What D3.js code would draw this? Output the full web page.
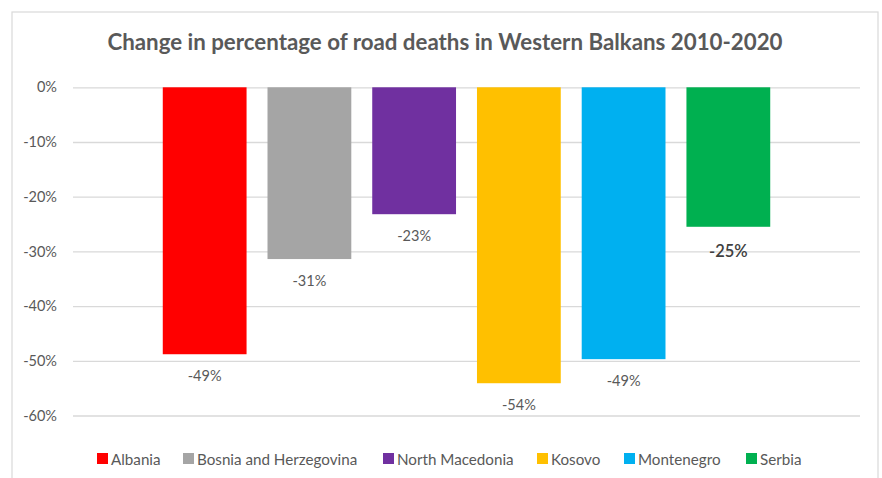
<!DOCTYPE html>
<html>
<head>
<meta charset="utf-8">
<script src="https://cdn.jsdelivr.net/npm/d3@7"></script>
<style>
  body { margin: 0; background: #fff; }
  text { font-family: Lato, "Open Sans", sans-serif; }
</style>
</head>
<body>
<script>
// data
var countries = ["Albania", "Bosnia and Herzegovina", "North Macedonia", "Kosovo", "Montenegro", "Serbia"];
var changes = [-48.8, -31.4, -23.2, -54.1, -49.7, -25.5];
var labels = ["-49%", "-31%", "-23%", "-54%", "-49%", "-25%"];
var colours = ["#ff0000", "#a5a5a5", "#7030a0", "#ffc000", "#00b0f0", "#00b050"];
var yTicks = [0, -10, -20, -30, -40, -50, -60];

var width = 882, height = 478;

var svg = d3.select("body").append("svg")
  .attr("width", width).attr("height", height);

// chart frame
svg.append("rect")
  .attr("x", 12).attr("y", 12)
  .attr("width", 866).attr("height", 480)
  .attr("fill", "#fff")
  .attr("stroke", "#d9d9d9").attr("stroke-width", 1.2);

svg.append("text")
  .attr("x", 445).attr("y", 50)
  .attr("text-anchor", "middle")
  .attr("font-size", "22.3px").attr("font-weight", "bold")
  .attr("fill", "#595959")
  .text("Change in percentage of road deaths in Western Balkans 2010-2020");

var y = d3.scaleLinear().domain([0, -60]).range([87.3, 415.5]);
var x = d3.scaleBand().domain(countries).range([152.3, 780.7]).paddingInner(0.2).paddingOuter(0.1);

// gridlines + tick labels
var yAxis = d3.axisLeft(y).tickValues(yTicks)
  .tickSize(-(860 - 73))
  .tickPadding(16)
  .tickFormat(function(d){ return d + "%"; });

var g = svg.append("g").attr("transform", "translate(73,0)").call(yAxis);
g.select(".domain").remove();
g.selectAll(".tick line").attr("stroke", "#d9d9d9").attr("stroke-width", 1.3);
g.selectAll(".tick text")
  .attr("font-family", "Lato, 'Open Sans', sans-serif")
  .attr("font-size", "14.5px").attr("fill", "#595959");

svg.selectAll("rect.bar").data(changes).enter()
  .append("rect").attr("class", "bar")
  .attr("x", function(d, i){ return x(countries[i]); })
  .attr("y", y(0))
  .attr("width", x.bandwidth())
  .attr("height", function(d){ return y(d) - y(0); })
  .attr("fill", function(d, i){ return colours[i]; });

svg.selectAll("text.lab").data(changes).enter()
  .append("text").attr("class", "lab")
  .attr("x", function(d, i){ return x(countries[i]) + x.bandwidth() / 2; })
  .attr("y", function(d, i){ return y(d) + (i == 5 ? 30 : 27); })
  .attr("text-anchor", "middle")
  .attr("font-size", function(d, i){ return i == 5 ? "16.5px" : "14.5px"; })
  .attr("font-weight", function(d, i){ return i == 5 ? "600" : "normal"; })
  .attr("fill", function(d, i){ return i == 5 ? "#404040" : "#595959"; })
  .text(function(d, i){ return labels[i]; });

// legend
var legendX = [97, 183, 383, 537, 624, 746];
var legend = svg.selectAll("g.leg").data(countries).enter()
  .append("g").attr("class", "leg")
  .attr("transform", function(d, i){ return "translate(" + legendX[i] + ",459)"; });
legend.append("rect")
  .attr("x", 0).attr("y", -6).attr("width", 11).attr("height", 11)
  .attr("fill", function(d, i){ return colours[i]; });
legend.append("text")
  .attr("x", 14).attr("y", 5.5)
  .attr("font-size", "15.2px").attr("fill", "#595959")
  .text(function(d){ return d; });
</script>
</body>
</html>
